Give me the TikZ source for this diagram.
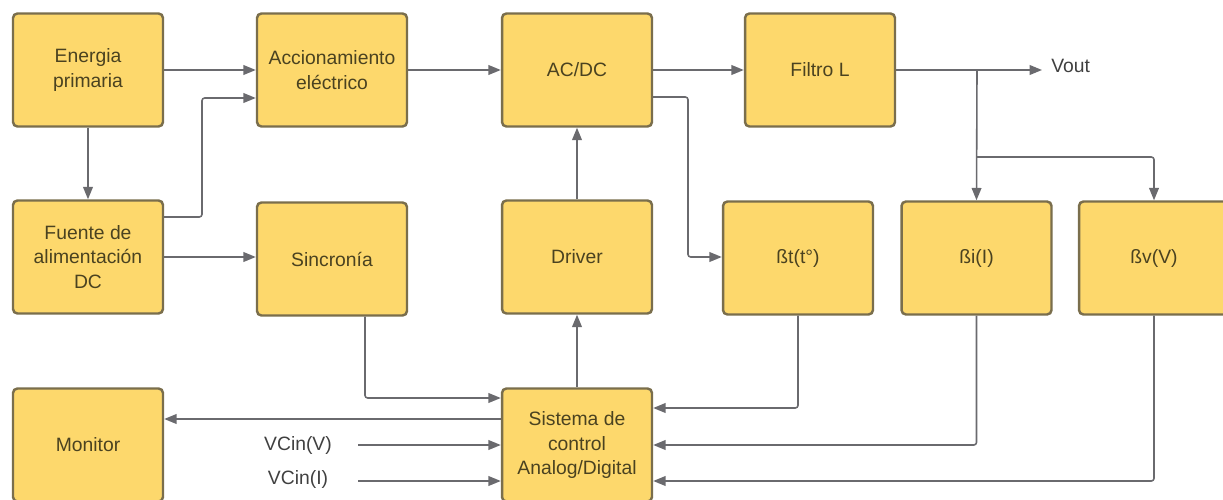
\documentclass[tikz,border=0pt]{standalone}
\usepackage{fontspec}
\setmainfont{Liberation Sans}
\usetikzlibrary{arrows.meta}
\definecolor{boxfill}{HTML}{FDD86C}
\definecolor{boxedge}{HTML}{7A6E4C}
\definecolor{boxtext}{HTML}{4A4220}
\definecolor{wire}{HTML}{6A6A6E}
\definecolor{labeltext}{HTML}{404040}
\tikzset{
  blk/.style={draw=boxedge, fill=boxfill, line width=1.4pt, rounded corners=2.5pt,
    minimum width=3cm, minimum height=2.26cm, align=center, text=boxtext,
    font=\fontsize{11}{14}\selectfont, inner sep=0pt},
  lbl/.style={text=labeltext, font=\fontsize{11}{14}\selectfont, inner sep=0pt},
  wireln/.style={draw=wire, line width=0.9pt, rounded corners=1.5pt},
  arr/.style={wireln, -{Triangle[length=7pt,width=5.5pt]}},
}
\begin{document}
\begin{tikzpicture}[x=0.02cm, y=-0.02cm]
\useasboundingbox (0,0) rectangle (1223,500);
\clip (0,0) rectangle (1223,500);

% top row
\node[blk] (ener)   at (88,70)  {Energia\\primaria};
\node[blk] (accion) at (332,70) {Accionamiento\\eléctrico};
\node[blk] (acdc)   at (577,70) {AC/DC};
\node[blk] (filtro) at (820,70) {Filtro L};

% middle row
\node[blk] (fuente) at (88,257)    {Fuente de\\alimentación\\DC};
\node[blk] (sinc)   at (332,259)   {Sincronía};
\node[blk] (driver) at (577,257)   {Driver};
\node[blk] (bt)     at (798,258)   {ßt(t°)};
\node[blk] (bi)     at (976.5,258) {ßi(I)};
\node[blk] (bv)     at (1154,258)  {ßv(V)};

% bottom row
\node[blk] (monitor) at (88,445)  {Monitor};
\node[blk] (sistema) at (577,445) {Sistema de\\control\\Analog/Digital};

% free labels
\node[lbl, anchor=west] (vout) at (1051,66) {Vout};
\node[lbl] (vcv) at (298,445) {VCin(V)};
\node[lbl] (vci) at (298,479) {VCin(I)};
\coordinate (voutend) at (1042,70);
\coordinate (br1) at (977,70);
\coordinate (br2) at (977,157);
\coordinate (vcvstart) at (358,445);
\coordinate (vcistart) at (358,481);

% power path
\draw[arr] (ener) -- (accion);
\draw[arr] (ener) -- (fuente);
\draw[arr] (fuente.east |- 0,217) -| (202,98) -- (accion.west |- 0,98);
\draw[arr] (fuente.east |- 0,257) -- (sinc.west |- 0,257);
\draw[arr] (accion) -- (acdc);
\draw[arr] (acdc) -- (filtro);
\draw[arr] (filtro.east) -- (voutend);
\draw[arr] (acdc.east |- 0,97) -| (688,257) -- (bt.west |- 0,257);

% sensing branches
\draw[arr] (br1) -- (bi.north);
\draw[arr] (br2) -| (bv.north);

% control path
\draw[arr] (driver) -- (acdc);
\draw[arr] (sistema) -- (driver);
\draw[arr] (sinc.south -| 365,0) |- (sistema.west |- 0,398);
\draw[arr] (bt.south) |- (sistema.east |- 0,408);
\draw[arr] (bi.south) |- (sistema.east |- 0,445);
\draw[arr] (bv.south) |- (sistema.east |- 0,481);
\draw[arr] (sistema.west |- 0,419) -- (monitor.east |- 0,419);
\draw[arr] (vcvstart) -- (sistema.west |- vcvstart);
\draw[arr] (vcistart) -- (sistema.west |- vcistart);
\end{tikzpicture}
\end{document}
